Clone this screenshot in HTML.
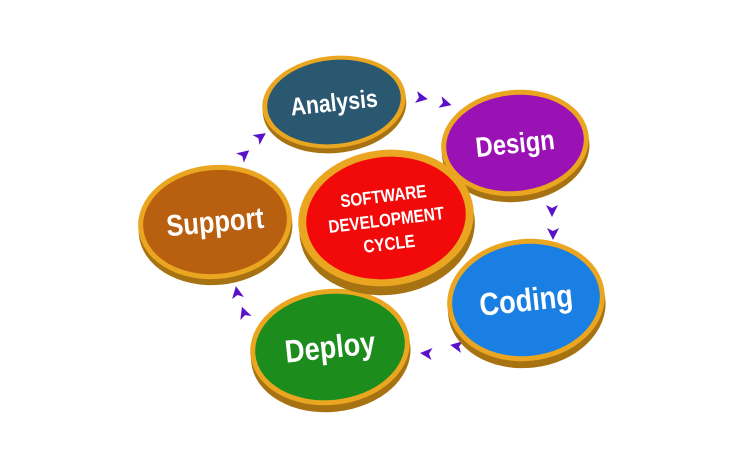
<!DOCTYPE html>
<html><head><style>body{margin:0;background:#fff}svg{display:block}</style></head><body>
<svg width="750" height="460" viewBox="0 0 750 460" xmlns="http://www.w3.org/2000/svg" font-family="Liberation Sans, sans-serif" font-weight="bold" fill="#fff">
<defs>
<g id="a"><path d="M0,-6 L12,0 L0,6 L3,0 Z" fill="#5a12c8"/></g>
</defs>
<use href="#a" transform="translate(416,97) rotate(10)"/>
<use href="#a" transform="translate(440,102) rotate(15)"/>
<use href="#a" transform="translate(552,205) rotate(90)"/>
<use href="#a" transform="translate(553,228) rotate(90)"/>
<use href="#a" transform="translate(462,347) rotate(190)"/>
<use href="#a" transform="translate(432,354) rotate(185)"/>
<use href="#a" transform="translate(246,318) rotate(-110)"/>
<use href="#a" transform="translate(238,298) rotate(-100)"/>
<use href="#a" transform="translate(240,158) rotate(-40)"/>
<use href="#a" transform="translate(256,140) rotate(-35)"/>
<g transform="translate(334,102) rotate(-6)">
<ellipse cx="0" cy="5" rx="72" ry="46" fill="#a77312"/>
<ellipse cx="0" cy="0" rx="72" ry="46" fill="#eaa621"/>
<ellipse cx="0" cy="0" rx="67" ry="42" fill="#2a5870"/>
<text x="0" y="9" font-size="25" text-anchor="middle" transform="scale(0.85,1)">Analysis</text></g>
<g transform="translate(515,143) rotate(-6)">
<ellipse cx="0" cy="6" rx="74" ry="53" fill="#a77312"/>
<ellipse cx="0" cy="0" rx="74" ry="53" fill="#eaa621"/>
<ellipse cx="0" cy="0" rx="69" ry="48" fill="#9a12b4"/>
<text x="0" y="10" font-size="28" text-anchor="middle" transform="scale(0.85,1)">Design</text></g>
<g transform="translate(215,222) rotate(-5)">
<ellipse cx="0" cy="6" rx="77" ry="57" fill="#a77312"/>
<ellipse cx="0" cy="0" rx="77" ry="57" fill="#eaa621"/>
<ellipse cx="0" cy="0" rx="72" ry="52" fill="#b8600f"/>
<text x="0" y="10" font-size="30" text-anchor="middle" transform="scale(0.85,1)">Support</text></g>
<g transform="translate(526,300) rotate(-6)">
<ellipse cx="0" cy="7" rx="79" ry="61" fill="#a77312"/>
<ellipse cx="0" cy="0" rx="79" ry="61" fill="#eaa621"/>
<ellipse cx="0" cy="0" rx="74" ry="56" fill="#1a7fe2"/>
<text x="0" y="11" font-size="32" text-anchor="middle" transform="scale(0.85,1)">Coding</text></g>
<g transform="translate(330,347) rotate(-6)">
<ellipse cx="0" cy="7" rx="80" ry="58" fill="#a77312"/>
<ellipse cx="0" cy="0" rx="80" ry="58" fill="#eaa621"/>
<ellipse cx="0" cy="0" rx="75" ry="53" fill="#1c8c1c"/>
<text x="0" y="11" font-size="32" text-anchor="middle" transform="scale(0.85,1)">Deploy</text></g>
<g transform="translate(386,218) rotate(-7)">
<ellipse cx="0" cy="9" rx="88" ry="68" fill="#a77312"/>
<ellipse cx="0" cy="0" rx="88" ry="68" fill="#eaa621"/>
<ellipse cx="0" cy="0" rx="80" ry="61" fill="#f20a0a"/>
<g font-size="18" text-anchor="middle" transform="scale(0.85,1)">
<text x="0" y="-16">SOFTWARE</text>
<text x="0" y="8">DEVELOPMENT</text>
<text x="0" y="32">CYCLE</text></g></g>
</svg>
</body></html>
